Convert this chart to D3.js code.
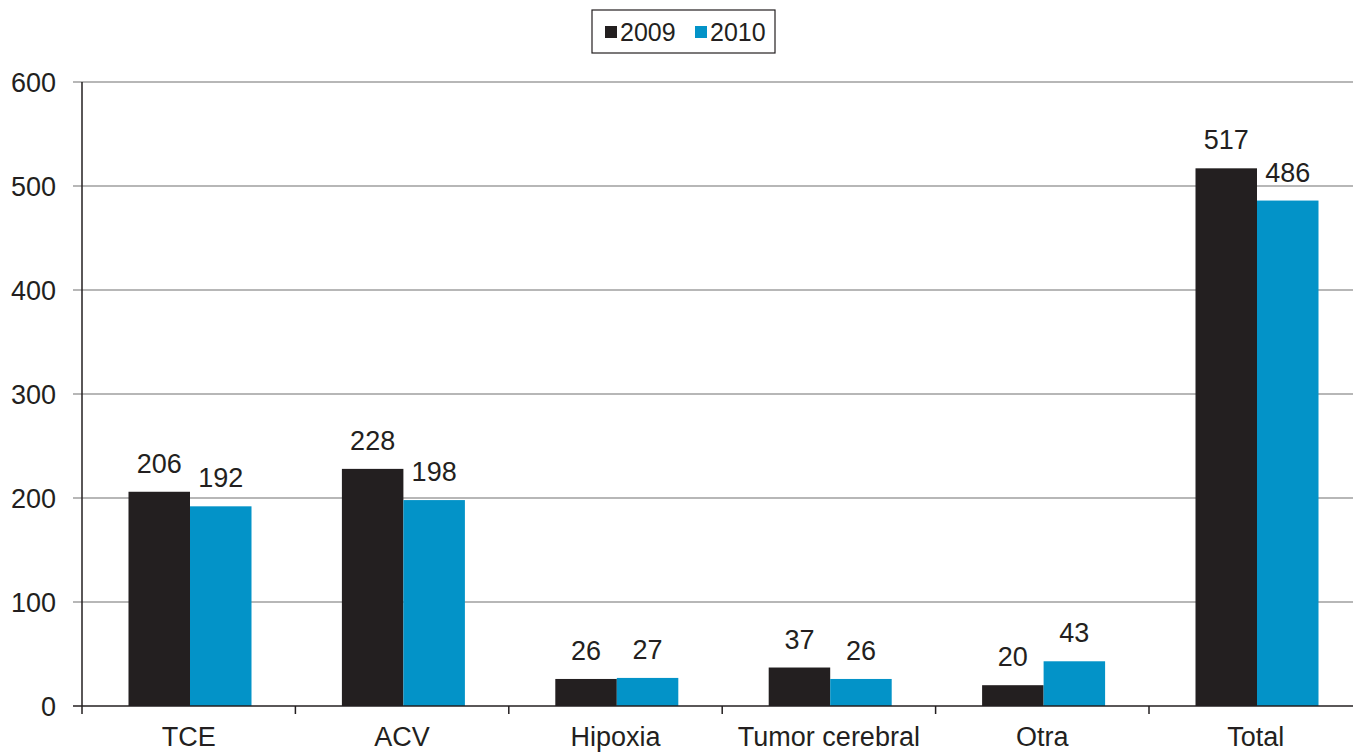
<!DOCTYPE html>
<html>
<head>
<meta charset="utf-8">
<script src="https://cdn.jsdelivr.net/npm/d3@7"></script>
<style>
  body { margin: 0; background: #fff; }
  svg { display: block; font-family: "Liberation Sans", Arial, sans-serif; }
</style>
</head>
<body>
<svg id="chart" width="1353" height="752"></svg>
<script>
const categories = ["TCE", "ACV", "Hipoxia", "Tumor cerebral", "Otra", "Total"]
const years = ["2009", "2010"]
const values2009 = [206, 228, 26, 37, 20, 517]
const values2010 = [192, 198, 27, 26, 43, 486]
const yTicks = [0, 100, 200, 300, 400, 500, 600]

const colors = { "2009": "#231f20", "2010": "#0393c8" }
const ink = "#231f20"

const svg = d3.select("#chart")
const plotLeft = 82
const plotBottom = 706
const plotTop = 82

const x = d3.scaleBand().domain(categories).range([plotLeft, plotLeft + 213.4 * 6]).padding(0)
const x1 = d3.scaleBand().domain(years).range([46.5, 169.5]).padding(0)
const y = d3.scaleLinear().domain([0, 600]).range([plotBottom, plotTop])

const rows = categories.map((c, i) => ({
  category: c,
  bars: [
    { year: "2009", value: values2009[i] },
    { year: "2010", value: values2010[i] },
  ],
}))

// gridlines
svg
  .append("g")
  .selectAll("line")
  .data(yTicks.filter((t) => t > 0))
  .enter()
  .append("line")
  .attr("x1", plotLeft - 9)
  .attr("x2", 1353)
  .attr("y1", (d) => y(d))
  .attr("y2", (d) => y(d))
  .attr("stroke", "#9f9f9f")
  .attr("stroke-width", 1.5)

// bars
const group = svg
  .append("g")
  .selectAll("g")
  .data(rows)
  .enter()
  .append("g")
  .attr("transform", (d) => `translate(${x(d.category)},0)`)

group
  .selectAll("rect")
  .data((d) => d.bars)
  .enter()
  .append("rect")
  .attr("x", (d) => x1(d.year))
  .attr("width", x1.bandwidth())
  .attr("y", (d) => y(d.value))
  .attr("height", (d) => plotBottom - y(d.value))
  .attr("fill", (d) => colors[d.year])

group
  .selectAll("text")
  .data((d) => d.bars)
  .enter()
  .append("text")
  .text((d) => d.value)
  .attr("x", (d) => x1(d.year) + x1.bandwidth() / 2)
  .attr("y", (d) => y(d.value) - 19)
  .attr("text-anchor", "middle")
  .attr("font-size", 27)
  .attr("fill", ink)

// y axis
svg
  .append("line")
  .attr("x1", plotLeft)
  .attr("x2", plotLeft)
  .attr("y1", plotTop)
  .attr("y2", plotBottom)
  .attr("stroke", ink)
  .attr("stroke-width", 1.5)

svg
  .append("g")
  .selectAll("text")
  .data(yTicks)
  .enter()
  .append("text")
  .text((d) => d)
  .attr("x", 56)
  .attr("y", (d) => y(d))
  .attr("dy", "0.36em")
  .attr("text-anchor", "end")
  .attr("font-size", 27)
  .attr("fill", ink)

svg
  .append("line")
  .attr("x1", plotLeft - 9)
  .attr("x2", plotLeft)
  .attr("y1", plotBottom)
  .attr("y2", plotBottom)
  .attr("stroke", ink)
  .attr("stroke-width", 1.5)

// x axis
svg
  .append("line")
  .attr("x1", plotLeft)
  .attr("x2", 1353)
  .attr("y1", plotBottom)
  .attr("y2", plotBottom)
  .attr("stroke", ink)
  .attr("stroke-width", 1.5)

svg
  .append("g")
  .selectAll("line")
  .data(categories)
  .enter()
  .append("line")
  .attr("x1", (d) => x(d))
  .attr("x2", (d) => x(d))
  .attr("y1", plotBottom)
  .attr("y2", plotBottom + 8)
  .attr("stroke", ink)
  .attr("stroke-width", 1.5)

svg
  .append("g")
  .selectAll("text")
  .data(categories)
  .enter()
  .append("text")
  .text((d) => d)
  .attr("x", (d) => x(d) + x.bandwidth() / 2)
  .attr("y", 746)
  .attr("text-anchor", "middle")
  .attr("font-size", 27)
  .attr("fill", ink)

// legend
const legend = svg.append("g").attr("transform", "translate(592,10)")
legend
  .append("rect")
  .attr("width", 183)
  .attr("height", 43)
  .attr("fill", "#fff")
  .attr("stroke", ink)
  .attr("stroke-width", 1.2)

const item = legend
  .selectAll("g")
  .data(years)
  .enter()
  .append("g")
  .attr("transform", (d, i) => `translate(${13 + i * 90},16)`)

item
  .append("rect")
  .attr("width", 12)
  .attr("height", 12)
  .attr("fill", (d) => colors[d])

item
  .append("text")
  .text((d) => d)
  .attr("x", 15)
  .attr("y", 6)
  .attr("dy", "0.36em")
  .attr("font-size", 25)
  .attr("fill", ink)
</script>
</body>
</html>
